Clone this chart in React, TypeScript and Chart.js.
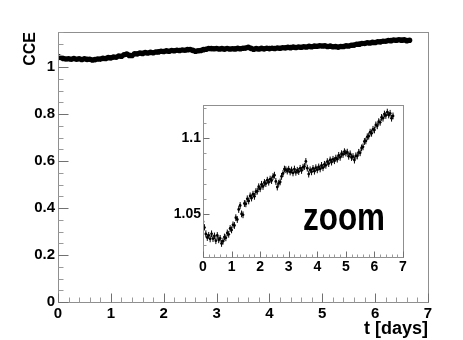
import React, { useEffect, useRef } from 'react';
import { Chart, registerables } from 'chart.js';

Chart.register(...registerables);

// ---- data ----
const days = [
  0, 0.05, 0.1, 0.15, 0.2, 0.25, 0.3, 0.35, 0.4, 0.45,
  0.5, 0.55, 0.6, 0.65, 0.7, 0.75, 0.8, 0.85, 0.9, 0.95,
  1, 1.05, 1.1, 1.15, 1.2, 1.25, 1.3, 1.35, 1.4, 1.45,
  1.5, 1.55, 1.6, 1.65, 1.7, 1.75, 1.8, 1.85, 1.9, 1.95,
  2, 2.05, 2.1, 2.15, 2.2, 2.25, 2.3, 2.35, 2.4, 2.45,
  2.5, 2.55, 2.6, 2.65, 2.7, 2.75, 2.8, 2.85, 2.9, 2.95,
  3, 3.05, 3.1, 3.15, 3.2, 3.25, 3.3, 3.35, 3.4, 3.45,
  3.5, 3.55, 3.6, 3.65, 3.7, 3.75, 3.8, 3.85, 3.9, 3.95,
  4, 4.05, 4.1, 4.15, 4.2, 4.25, 4.3, 4.35, 4.4, 4.45,
  4.5, 4.55, 4.6, 4.65, 4.7, 4.75, 4.8, 4.85, 4.9, 4.95,
  5, 5.05, 5.1, 5.15, 5.2, 5.25, 5.3, 5.35, 5.4, 5.45,
  5.5, 5.55, 5.6, 5.65, 5.7, 5.75, 5.8, 5.85, 5.9, 5.95,
  6, 6.05, 6.1, 6.15, 6.2, 6.25, 6.3, 6.35, 6.4, 6.45,
  6.5, 6.55, 6.6, 6.65,
];

const cce = [
  1.0452, 1.0413, 1.0371, 1.0348, 1.0362, 1.0339, 1.0372, 1.0341, 1.0358, 1.0327,
  1.0361, 1.0333, 1.0342, 1.0309, 1.0324, 1.0351, 1.0346, 1.0378, 1.0369, 1.0407,
  1.0398, 1.0431, 1.0427, 1.0478, 1.0466, 1.0532, 1.0558, 1.0503, 1.0497, 1.0571,
  1.0569, 1.0602, 1.0588, 1.0621, 1.0607, 1.0632, 1.0618, 1.0649, 1.0652, 1.0681,
  1.0668, 1.0697, 1.0683, 1.0709, 1.0702, 1.0724, 1.0711, 1.0731, 1.0722, 1.0748,
  1.0757, 1.0716, 1.0679, 1.0704, 1.0713, 1.0749, 1.0768, 1.0797, 1.0793, 1.0784,
  1.0796, 1.0778, 1.0791, 1.0772, 1.0797, 1.0776, 1.0789, 1.0781, 1.0802, 1.0788,
  1.0809, 1.0814, 1.0847, 1.0803, 1.0764, 1.0792, 1.0779, 1.0801, 1.0783, 1.0806,
  1.0792, 1.0811, 1.0798, 1.0821, 1.0806, 1.0828, 1.0822, 1.0846, 1.0833, 1.0857,
  1.0843, 1.0861, 1.0852, 1.0869, 1.0862, 1.0887, 1.0874, 1.0898, 1.0893, 1.0911,
  1.0902, 1.0908, 1.0881, 1.0897, 1.0873, 1.0879, 1.0856, 1.0884, 1.0883, 1.0907,
  1.0904, 1.0936, 1.0943, 1.0978, 1.0982, 1.1009, 1.1013, 1.1039, 1.1032, 1.1058,
  1.1054, 1.1087, 1.1081, 1.1108, 1.1104, 1.1136, 1.1131, 1.1158, 1.1149, 1.1171,
  1.1152, 1.1163, 1.1131, 1.1146,
];

const mainXTicks = [0, 1, 2, 3, 4, 5, 6, 7];
const mainYTicks = [0, 0.2, 0.4, 0.6, 0.8, 1];
const insetXTicks = [0, 1, 2, 3, 4, 5, 6, 7];
const insetYTicks = [1.05, 1.1];

const mainRange = { xMin: 0, xMax: 7, yMin: 0, yMax: 1.15 };
const insetRange = { xMin: 0, xMax: 7, yMin: 1.022, yMax: 1.1215 };

const xTitle = 't [days]';
const yTitle = 'CCE';
const insetNote = 'zoom';

const FONT = "'Liberation Sans', Arial, Helvetica, sans-serif";

type FrameCfg = {
  xMinor: number;
  yMinor: number;
  xMajorLen: number;
  xMinorLen: number;
  yMajorLen: number;
  yMinorLen: number;
  xMajor: number[];
  yMajor: number[];
  note?: { text: string; x: number; y: number; font: string; maxWidth: number };
};

function framePlugin(id: string, cfg: FrameCfg) {
  return {
    id,
    afterDraw(chart: any) {
      const { ctx, chartArea: a } = chart;
      const xs = chart.scales.x;
      const ys = chart.scales.y;
      const L = Math.round(a.left) + 0.5;
      const R = Math.round(a.right) + 0.5;
      const T = Math.round(a.top) + 0.5;
      const B = Math.round(a.bottom) + 0.5;
      ctx.save();
      ctx.lineWidth = 1;
      ctx.strokeStyle = '#8f8f8f';
      ctx.strokeRect(L, T, R - L, B - T);

      const drawX = (v: number, len: number, col: string) => {
        const p = Math.round(xs.getPixelForValue(v)) + 0.5;
        ctx.strokeStyle = col;
        ctx.beginPath();
        ctx.moveTo(p, B);
        ctx.lineTo(p, B - len);
        ctx.stroke();
      };
      const drawY = (v: number, len: number, col: string) => {
        const p = Math.round(ys.getPixelForValue(v)) + 0.5;
        ctx.strokeStyle = col;
        ctx.beginPath();
        ctx.moveTo(L, p);
        ctx.lineTo(L + len, p);
        ctx.stroke();
      };
      const nx = Math.round((xs.max - xs.min) / cfg.xMinor);
      for (let i = 0; i <= nx; i++) drawX(xs.min + i * cfg.xMinor, cfg.xMinorLen, '#9a9a9a');
      const y0 = Math.ceil(ys.min / cfg.yMinor - 1e-6) * cfg.yMinor;
      const ny = Math.floor((ys.max - y0) / cfg.yMinor + 1e-6);
      for (let i = 0; i <= ny; i++) drawY(y0 + i * cfg.yMinor, cfg.yMinorLen, '#9a9a9a');
      cfg.xMajor.forEach((v) => drawX(v, cfg.xMajorLen, '#707070'));
      cfg.yMajor.forEach((v) => drawY(v, cfg.yMajorLen, '#707070'));

      if (cfg.note) {
        ctx.fillStyle = '#000';
        ctx.font = cfg.note.font;
        ctx.textAlign = 'left';
        ctx.textBaseline = 'alphabetic';
        ctx.fillText(
          cfg.note.text,
          xs.getPixelForValue(cfg.note.x),
          ys.getPixelForValue(cfg.note.y),
          cfg.note.maxWidth,
        );
      }
      ctx.restore();
    },
  };
}

const points = days.map((d, i) => ({ x: d, y: cce[i] }));

export default function App() {
  const mainRef = useRef<HTMLCanvasElement>(null);
  const insetRef = useRef<HTMLCanvasElement>(null);

  useEffect(() => {
    const tickFont = (size: number) => ({ family: FONT, size, weight: 'bold' as const });

    const main = new Chart(mainRef.current!, {
      type: 'scatter',
      data: {
        datasets: [
          {
            data: points,
            showLine: true,
            borderColor: '#000',
            borderWidth: 3.5,
            backgroundColor: '#000',
            pointRadius: 2.8,
            pointBorderWidth: 0,
          },
        ],
      },
      options: {
        responsive: false,
        animation: false,
        events: [],
        layout: { padding: { top: 32, right: 35, left: 0, bottom: 0 } },
        plugins: { legend: { display: false }, tooltip: { enabled: false } },
        scales: {
          x: {
            type: 'linear',
            min: mainRange.xMin,
            max: mainRange.xMax,
            afterBuildTicks: (s: any) => {
              s.ticks = mainXTicks.map((v) => ({ value: v }));
            },
            afterFit: (s: any) => {
              s.height = 38;
            },
            grid: { display: false, drawTicks: false },
            border: { display: false },
            ticks: {
              padding: 3,
              color: '#000',
              font: tickFont(15),
              maxRotation: 0,
              autoSkip: false,
              callback: (v: any) => String(v),
            },
            title: {
              display: true,
              text: xTitle,
              align: 'end',
              color: '#000',
              font: { family: FONT, size: 18, weight: 'bold' },
              padding: { top: 3, bottom: 0 },
            },
          },
          y: {
            type: 'linear',
            min: mainRange.yMin,
            max: mainRange.yMax,
            afterBuildTicks: (s: any) => {
              s.ticks = mainYTicks.map((v) => ({ value: v }));
            },
            afterFit: (s: any) => {
              s.width = 58;
            },
            grid: { display: false, drawTicks: false },
            border: { display: false },
            ticks: {
              padding: 3,
              color: '#000',
              font: tickFont(15),
              autoSkip: false,
              callback: (v: any) => String(v),
            },
            title: {
              display: true,
              text: yTitle,
              align: 'end',
              color: '#000',
              font: { family: FONT, size: 16, weight: 'bold' },
              padding: { top: 21, bottom: 0 },
            },
          },
        },
      },
      plugins: [
        framePlugin('mainFrame', {
          xMinor: 0.2,
          yMinor: 0.05,
          xMajorLen: 9,
          xMinorLen: 5,
          yMajorLen: 10,
          yMinorLen: 5,
          xMajor: mainXTicks,
          yMajor: mainYTicks,
        }),
      ],
    } as any);

    const inset = new Chart(insetRef.current!, {
      type: 'scatter',
      data: {
        datasets: [
          {
            data: points,
            showLine: false,
            borderColor: '#000',
            backgroundColor: '#000',
            pointStyle: 'line',
            rotation: 90,
            pointRadius: 3.4,
            pointBorderWidth: 1,
          },
          {
            data: points,
            showLine: false,
            borderColor: '#000',
            backgroundColor: '#000',
            pointRadius: 1.4,
            pointBorderWidth: 0,
          },
        ],
      },
      options: {
        responsive: false,
        animation: false,
        events: [],
        layout: { padding: { top: 10, right: 17, left: 0, bottom: 0 } },
        plugins: { legend: { display: false }, tooltip: { enabled: false } },
        scales: {
          x: {
            type: 'linear',
            min: insetRange.xMin,
            max: insetRange.xMax,
            afterBuildTicks: (s: any) => {
              s.ticks = insetXTicks.map((v) => ({ value: v }));
            },
            afterFit: (s: any) => {
              s.height = 28;
            },
            grid: { display: false, drawTicks: false },
            border: { display: false },
            ticks: {
              padding: 2,
              color: '#000',
              font: tickFont(14),
              maxRotation: 0,
              autoSkip: false,
              callback: (v: any) => String(v),
            },
          },
          y: {
            type: 'linear',
            min: insetRange.yMin,
            max: insetRange.yMax,
            afterBuildTicks: (s: any) => {
              s.ticks = insetYTicks.map((v) => ({ value: v }));
            },
            afterFit: (s: any) => {
              s.width = 43;
            },
            grid: { display: false, drawTicks: false },
            border: { display: false },
            ticks: {
              padding: 2,
              color: '#000',
              font: tickFont(14),
              autoSkip: false,
              callback: (v: any) => String(v),
            },
          },
        },
      },
      plugins: [
        framePlugin('insetFrame', {
          xMinor: 0.2,
          yMinor: 0.01,
          xMajorLen: 6,
          xMinorLen: 3,
          yMajorLen: 6,
          yMinorLen: 3,
          xMajor: insetXTicks,
          yMajor: insetYTicks,
          note: { text: insetNote, x: 3.5, y: 1.04, font: `bold 38px ${FONT}`, maxWidth: 82 },
        }),
      ],
    } as any);

    return () => {
      main.destroy();
      inset.destroy();
    };
  }, []);

  return (
    <div style={{ position: 'absolute', left: 0, top: 0, width: 463, height: 340, background: '#fff' }}>
      <canvas
        ref={mainRef}
        width={463}
        height={340}
        style={{ position: 'absolute', left: 0, top: 0, width: 463, height: 340 }}
      />
      <canvas
        ref={insetRef}
        width={260}
        height={190}
        style={{ position: 'absolute', left: 160, top: 95, width: 260, height: 190 }}
      />
    </div>
  );
}
